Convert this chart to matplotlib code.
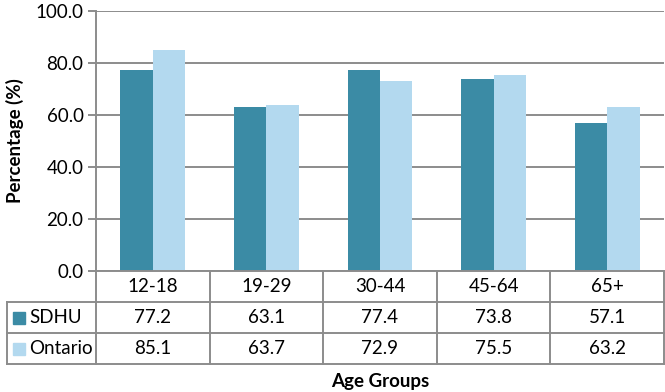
import matplotlib.pyplot as plt
from matplotlib.patches import Rectangle

groups = ['12-18', '19-29', '30-44', '45-64', '65+']
sdhu = [77.2, 63.1, 77.4, 73.8, 57.1]
ontario = [85.1, 63.7, 72.9, 75.5, 63.2]
series_names = ['SDHU', 'Ontario']
colors = ['#3b8ba5', '#b3d9ef']
yticks = [0, 20, 40, 60, 80, 100]

plt.rcParams['font.family'] = ['Lato', 'DejaVu Sans']
grid_c = '#8c8c8c'
fs = 13.5

fig = plt.figure(figsize=(6.65, 3.92), dpi=100)
ax = fig.add_axes([96 / 665, (392 - 271) / 392, 568 / 665, 260 / 392])

x = range(len(groups))
w = 0.286
ax.bar([i - w / 2 for i in x], sdhu, w, color=colors[0], zorder=3)
ax.bar([i + w / 2 for i in x], ontario, w, color=colors[1], zorder=3)

ax.set_xlim(-0.5, len(groups) - 0.5)
ax.set_ylim(0, 100)
ax.set_yticks(yticks)
ax.set_yticklabels([f'{v:.1f}' for v in yticks], fontsize=fs)
ax.set_xticks([])
ax.grid(axis='y', color=grid_c, lw=1.4, zorder=0)
for s in ['top', 'right', 'bottom']:
    ax.spines[s].set_visible(False)
ax.spines['left'].set_color(grid_c)
ax.spines['left'].set_linewidth(1.4)
ax.tick_params(axis='y', length=6, color=grid_c, width=1.4, pad=3)
ax.set_ylabel('Percentage (%)', fontsize=fs, fontweight='bold', labelpad=8)

# data table below the axis
tr = ax.get_xaxis_transform()
row_h = 31 / 260
left = -0.5 - 89 / 113.6
n = len(groups)
lk = dict(color=grid_c, lw=1.4, transform=tr, clip_on=False, zorder=4)
for k in range(1, 4):
    y = -k * row_h
    ax.plot([left, n - 0.5], [y, y], **lk)
ax.plot([-0.5, n - 0.5], [0, 0], **lk)
ax.plot([left, left], [-row_h, -3 * row_h], **lk)
for i in range(n + 1):
    ax.plot([i - 0.5, i - 0.5], [0, -3 * row_h], **lk)

for i, g in enumerate(groups):
    ax.text(i, -0.5 * row_h, g, transform=tr, ha='center', va='center', fontsize=fs)
    ax.text(i, -1.5 * row_h, f'{sdhu[i]:.1f}', transform=tr, ha='center', va='center', fontsize=fs)
    ax.text(i, -2.5 * row_h, f'{ontario[i]:.1f}', transform=tr, ha='center', va='center', fontsize=fs)

for r, (name, c) in enumerate(zip(series_names, colors)):
    yc = -(1.5 + r) * row_h
    ax.add_patch(Rectangle((left + 6 / 113.6, yc - 6 / 260), 12 / 113.6, 12 / 260,
                           transform=tr, color=c, clip_on=False))
    ax.text(left + 22 / 113.6, yc, name, transform=tr, ha='left', va='center', fontsize=fs)

fig.text(380 / 665, 1 - 381 / 392, 'Age Groups', ha='center', va='center',
         fontsize=fs, fontweight='bold')

fig.savefig('out.png', dpi=100)
